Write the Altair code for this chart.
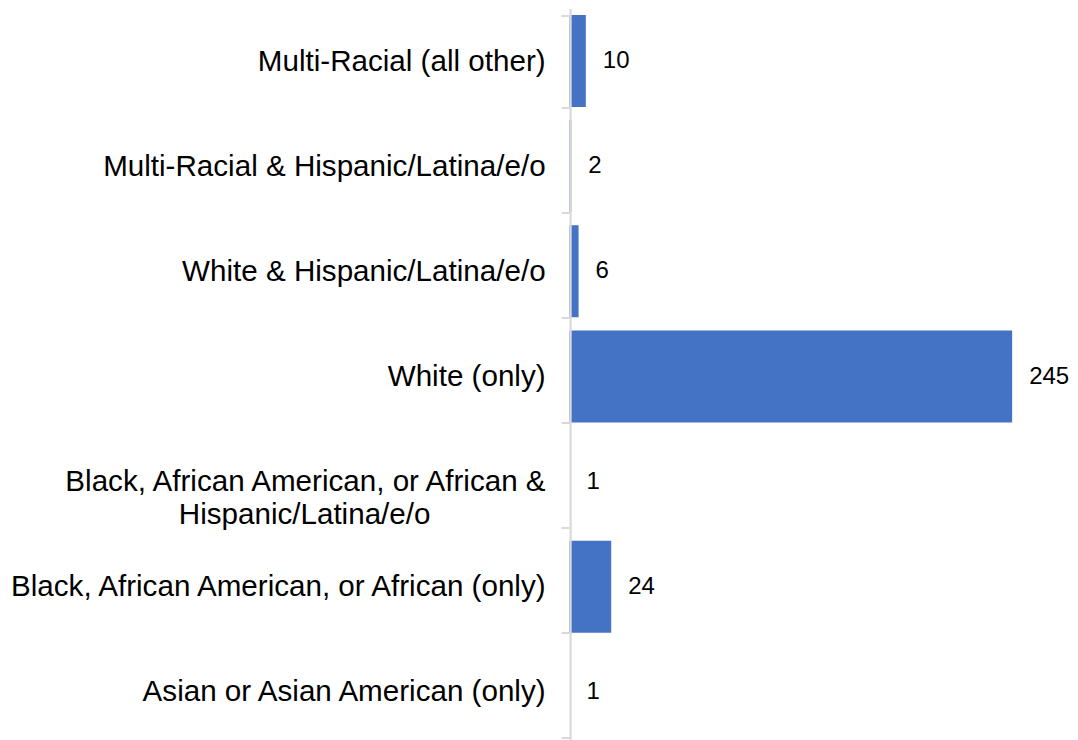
import altair as alt
import pandas as pd

categories = [
    "Multi-Racial (all other)",
    "Multi-Racial & Hispanic/Latina/e/o",
    "White & Hispanic/Latina/e/o",
    "White (only)",
    "Black, African American, or African & Hispanic/Latina/e/o",
    "Black, African American, or African (only)",
    "Asian or Asian American (only)",
]
counts = [10, 2, 6, 245, 1, 24, 1]

df = pd.DataFrame({"category": categories, "count": counts})

NB = "\u00a0"
label_expr = (
    "datum.label == 'Black, African American, or African & Hispanic/Latina/e/o' ? "
    "['Black, African American, or African &', 'Hispanic/Latina/e/o" + NB * 14 + "\u200b'] : datum.label"
)

y_enc = alt.Y(
    "category:N",
    sort=categories,
    title=None,
    scale=alt.Scale(paddingInner=0.125, paddingOuter=0.0625),
    axis=alt.Axis(
        labelExpr=label_expr,
        labelFont="Liberation Sans",
        labelFontSize=29.6,
        labelColor="#000000",
        labelLineHeight=33,
        labelPadding=16,
        labelLimit=0,
        tickBand="extent",
        tickSize=9,
        tickColor="#d9d9d9",
        tickWidth=2,
        domainColor="#d9d9d9",
        domainWidth=2.2,
        offset=-0.6,
        zindex=1,
        grid=False,
    ),
)

x_enc = alt.X(
    "count:Q",
    scale=alt.Scale(domain=[1, 270], nice=False, zero=False, clamp=True),
    axis=None,
)

base = alt.Chart(df).encode(y=y_enc, x=x_enc)

bars = base.mark_bar(color="#4472C4")
labels = base.mark_text(
    align="left", baseline="middle", dx=17,
    font="Liberation Sans", fontSize=24, color="#000000",
).encode(text="count:Q")

chart = (
    (bars + labels)
    .properties(
        width=488,
        height=736,
        autosize=alt.AutoSizeParams(type="none"),
        padding={"left": 561.5, "top": 0.5, "right": 12.5, "bottom": 0},
    )
    .configure_view(strokeWidth=0)
)

chart.save("out.html", embed_options={"renderer": "svg", "actions": False})
